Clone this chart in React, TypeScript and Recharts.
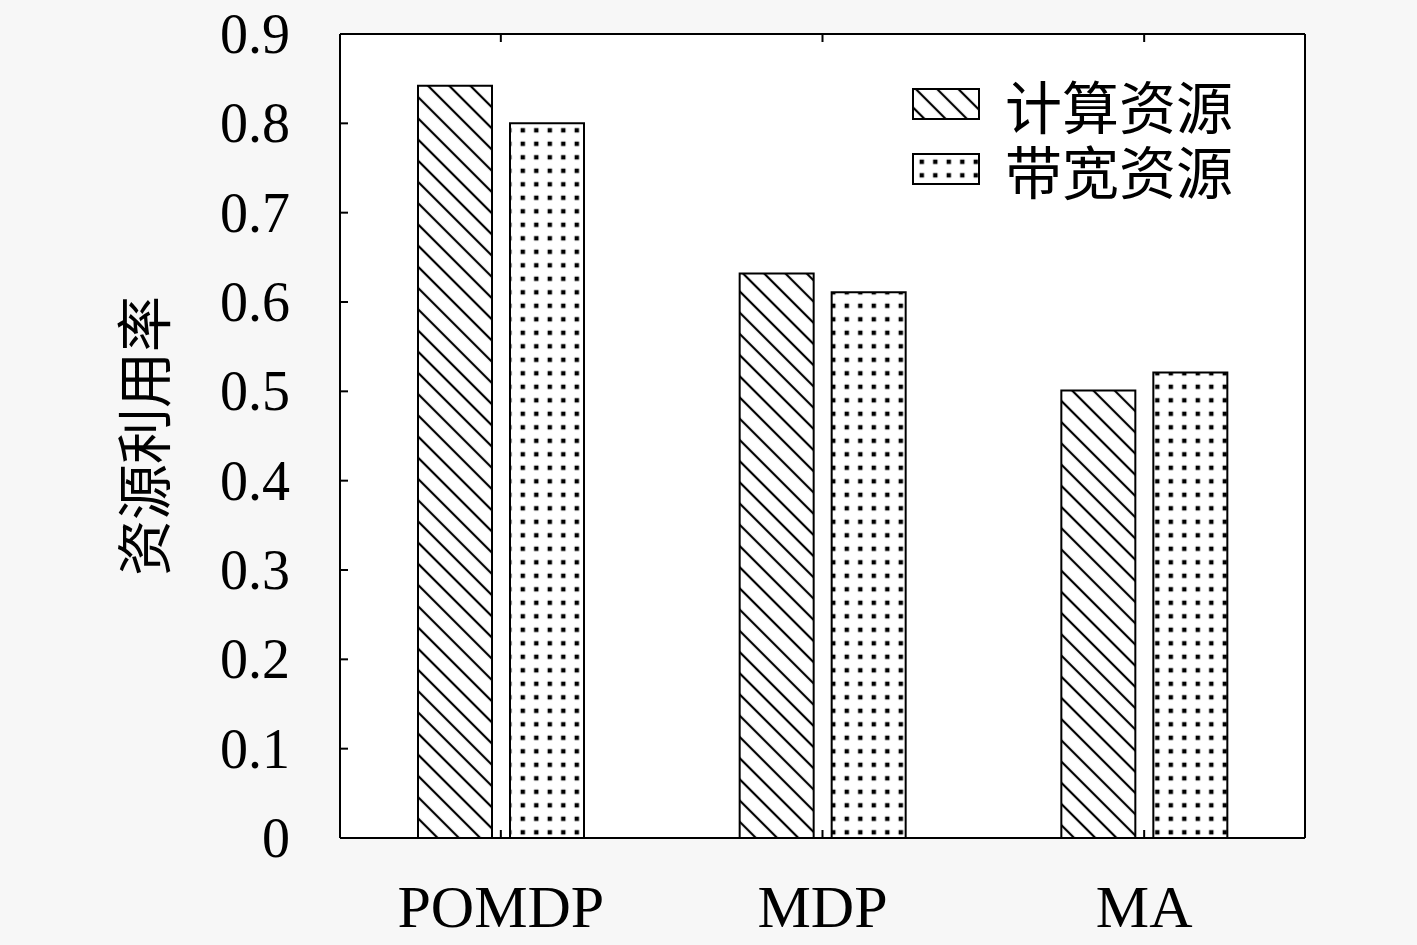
import React from 'react';
import { BarChart, Bar, XAxis, YAxis, CartesianGrid } from 'recharts';

const categories = ['POMDP', 'MDP', 'MA'];
const computeValues = [0.842, 0.632, 0.501];
const bandwidthValues = [0.8, 0.611, 0.521];
const seriesNames = ['计算资源', '带宽资源'];
const yTicks = [0, 0.1, 0.2, 0.3, 0.4, 0.5, 0.6, 0.7, 0.8, 0.9];
const yTickLabels = ['0', '0.1', '0.2', '0.3', '0.4', '0.5', '0.6', '0.7', '0.8', '0.9'];
const yAxisTitle = '资源利用率';

const data = categories.map((name, i) => ({
  name,
  compute: computeValues[i],
  bandwidth: bandwidthValues[i],
}));

const SERIF = '"Liberation Serif", "DejaVu Serif", serif';
const CJK = '"Noto Sans CJK SC", sans-serif';

const LeftTick = (props: any) => {
  const { x, y, payload } = props;
  const idx = yTicks.indexOf(payload.value);
  const label = idx >= 0 ? yTickLabels[idx] : String(payload.value);
  const axisX = x + 50;
  return (
    <g>
      <text x={x} y={y} dy="0.34em" textAnchor="end" fontFamily={SERIF} fontSize={56} fill="#000">
        {label}
      </text>
      {payload.value !== 0 && payload.value !== 0.9 && (
        <line x1={axisX} y1={y} x2={axisX + 8} y2={y} stroke="#000" strokeWidth={2} />
      )}
    </g>
  );
};

const RightTick = (props: any) => {
  const { x, y, payload } = props;
  if (payload.value === 0 || payload.value === 0.9) return <g />;
  return <line x1={x} y1={y} x2={x - 8} y2={y} stroke="#000" strokeWidth={2} />;
};

const BottomTick = (props: any) => {
  const { x, y, payload } = props;
  return (
    <g>
      <line x1={x} y1={y} x2={x} y2={y - 8} stroke="#000" strokeWidth={2} />
      <text x={x} y={y + 89} textAnchor="middle" fontFamily={SERIF} fontSize={60} fill="#000">
        {payload.value}
      </text>
    </g>
  );
};

const TopTick = (props: any) => {
  const { x, y } = props;
  return <line x1={x} y1={y} x2={x} y2={y + 8} stroke="#000" strokeWidth={2} />;
};

const PatternDefs = ({ prefix }: { prefix: string }) => (
  <defs>
    <pattern id={`${prefix}hatch`} patternUnits="userSpaceOnUse" width={15} height={15} patternTransform="rotate(-45)">
      <rect width={15} height={15} fill="#fff" />
      <line x1={2} y1={0} x2={2} y2={15} stroke="#000" strokeWidth={2.2} />
    </pattern>
    <pattern id={`${prefix}dots`} patternUnits="userSpaceOnUse" width={13.5} height={13.5} x={3} y={2}>
      <rect width={13.5} height={13.5} fill="#fff" />
      <rect x={4.6} y={4.6} width={4.4} height={4.4} fill="#000" />
    </pattern>
  </defs>
);

const Swatch = ({ kind }: { kind: string }) => (
  <svg width={68} height={32} style={{ display: 'block' }}>
    <PatternDefs prefix="lg-" />
    <rect x={1} y={1} width={66} height={30} fill={`url(#lg-${kind})`} stroke="#000" strokeWidth={2} />
  </svg>
);

const LegendBox = () => (
  <div style={{ position: 'absolute', left: 912, top: 71 }}>
    {seriesNames.map((n, i) => (
      <div key={n} style={{ display: 'flex', alignItems: 'center', height: 65 }}>
        <Swatch kind={i === 0 ? 'hatch' : 'dots'} />
        <div
          style={{
            marginLeft: 25,
            fontFamily: CJK,
            fontSize: 57,
            lineHeight: '58px',
            height: 58,
            color: '#000',
            whiteSpace: 'nowrap',
          }}
        >
          {n}
        </div>
      </div>
    ))}
  </div>
);

const YTitle = (props: any) => {
  const vb = props.viewBox || {};
  const cx = (vb.x || 0) + 100;
  const cy = (vb.y || 0) + (vb.height || 0) / 2;
  return (
    <text
      x={cx}
      y={cy}
      transform={`rotate(-90 ${cx} ${cy})`}
      textAnchor="middle"
      dominantBaseline="central"
      fontFamily={CJK}
      fontSize={56}
      fill="#000"
    >
      {yAxisTitle}
    </text>
  );
};

export default function App() {
  return (
    <div style={{ position: 'fixed', left: 0, top: 0, width: 1417, height: 945, background: '#f7f7f7' }}>
      <BarChart
        width={1417}
        height={945}
        data={data}
        margin={{ top: 24, right: 102, bottom: 7, left: 40 }}
        barSize={74}
        barGap={18}
      >
        <PatternDefs prefix="" />
        <CartesianGrid horizontal={false} vertical={false} fill="#fff" xAxisId="bottom" yAxisId="left" />
        <XAxis
          xAxisId="bottom"
          dataKey="name"
          orientation="bottom"
          height={100}
          tickSize={0}
          tickMargin={0}
          tickLine={false}
          axisLine={{ stroke: '#000', strokeWidth: 2 }}
          tick={<BottomTick />}
          interval={0}
        />
        <XAxis
          xAxisId="top"
          dataKey="name"
          orientation="top"
          height={10}
          tickSize={0}
          tickMargin={0}
          tickLine={false}
          axisLine={{ stroke: '#000', strokeWidth: 2 }}
          tick={<TopTick />}
          interval={0}
        />
        <YAxis
          yAxisId="left"
          orientation="left"
          width={300}
          domain={[0, 0.9]}
          ticks={yTicks}
          interval={0}
          tickSize={0}
          tickMargin={50}
          tickLine={false}
          axisLine={{ stroke: '#000', strokeWidth: 2 }}
          tick={<LeftTick />}
          label={<YTitle />}
        />
        <YAxis
          yAxisId="right"
          orientation="right"
          width={10}
          domain={[0, 0.9]}
          ticks={yTicks}
          interval={0}
          tickSize={0}
          tickMargin={0}
          tickLine={false}
          axisLine={{ stroke: '#000', strokeWidth: 2 }}
          tick={<RightTick />}
        />
        <Bar
          xAxisId="bottom"
          yAxisId="left"
          dataKey="compute"
          name={seriesNames[0]}
          fill="url(#hatch)"
          stroke="#000"
          strokeWidth={2}
          isAnimationActive={false}
        />
        <Bar
          xAxisId="bottom"
          yAxisId="left"
          dataKey="bandwidth"
          name={seriesNames[1]}
          fill="url(#dots)"
          stroke="#000"
          strokeWidth={2}
          isAnimationActive={false}
        />
      </BarChart>
      <LegendBox />
    </div>
  );
}
